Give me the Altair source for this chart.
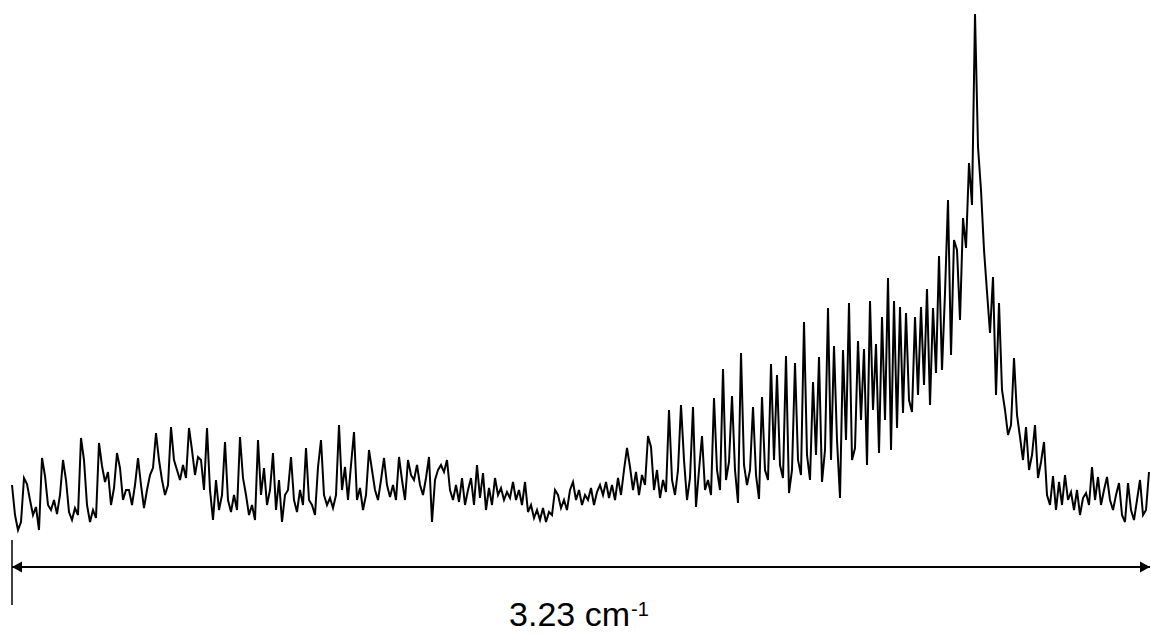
import altair as alt
import numpy as np
import pandas as pd

# Spectrum intensity (arbitrary units), equally spaced points
intensity = [
    45, 15, 0, 8, 52, 46, 30, 15, 23, 0, 72, 54, 25, 20, 30, 16, 35, 70, 50, 18,
    10, 22, 15, 92, 70, 25, 8, 20, 12, 87, 64, 48, 58, 25, 42, 77, 62, 30, 40, 40,
    25, 45, 72, 45, 22, 40, 55, 62, 97, 70, 50, 35, 45, 103, 70, 60, 50, 65, 52, 102,
    80, 55, 73, 70, 40, 102, 40, 10, 50, 20, 35, 88, 30, 18, 35, 20, 93, 52, 35, 15,
    25, 10, 90, 35, 62, 25, 40, 77, 20, 50, 8, 35, 40, 73, 30, 18, 40, 25, 82, 30,
    25, 15, 63, 90, 35, 25, 32, 22, 35, 105, 40, 63, 30, 65, 98, 30, 42, 20, 35, 80,
    60, 40, 30, 50, 72, 45, 33, 45, 30, 73, 50, 30, 70, 55, 50, 65, 45, 35, 52, 73,
    8, 50, 60, 65, 58, 70, 40, 30, 45, 28, 52, 25, 40, 52, 25, 65, 32, 57, 20, 42,
    25, 52, 35, 42, 30, 38, 32, 48, 30, 40, 25, 48, 18, 25, 12, 20, 10, 22, 8, 18,
    15, 40, 35, 22, 30, 20, 40, 48, 30, 40, 25, 35, 30, 42, 25, 38, 45, 35, 48, 32,
    45, 30, 52, 35, 60, 82, 63, 40, 58, 35, 55, 45, 94, 83, 40, 60, 32, 50, 38, 120,
    50, 35, 60, 125, 70, 30, 52, 123, 23, 60, 94, 40, 50, 35, 132, 60, 40, 161, 50, 68,
    134, 60, 27, 177, 65, 45, 60, 123, 55, 31, 133, 60, 50, 166, 70, 155, 65, 52, 174, 37,
    60, 167, 70, 55, 208, 75, 50, 148, 75, 173, 48, 80, 222, 70, 184, 90, 32, 180, 90, 227,
    70, 82, 189, 110, 181, 65, 229, 120, 186, 77, 213, 110, 252, 80, 229, 102, 223, 117, 217, 130,
    118, 213, 135, 223, 145, 241, 125, 222, 157, 274, 160, 237, 330, 175, 290, 280, 210, 312, 282, 367,
    325, 516, 383, 340, 280, 238, 197, 253, 135, 227, 140, 120, 95, 105, 172, 115, 93, 70, 103, 60,
    75, 105, 52, 68, 88, 35, 25, 54, 20, 48, 25, 55, 30, 38, 20, 40, 15, 32, 37, 25,
    63, 30, 53, 25, 40, 53, 30, 20, 35, 47, 15, 8, 47, 20, 10, 30, 50, 15, 20, 58,
]
point_spacing_cm = 0.008515          # cm-1 between samples
span_cm = 3.23                        # width of the arrow, cm-1
label_main = "3.23 cm"
label_sup = "-1"

wavenumber = np.round(np.arange(len(intensity)) * point_spacing_cm, 5)
spec = pd.DataFrame({"wn": wavenumber, "I": intensity})

xs = alt.Scale(domain=[0, span_cm], nice=False, zero=False)
ys = alt.Scale(domain=[-106, 530], nice=False, zero=False)

line = alt.Chart(spec).mark_line(color="black", strokeWidth=2, interpolate="linear").encode(
    x=alt.X("wn:Q", scale=xs, axis=None),
    y=alt.Y("I:Q", scale=ys, axis=None),
)

arrow_df = pd.DataFrame({"x": [0.0], "x2": [span_cm], "y": [-37]})
arrow = alt.Chart(arrow_df).mark_rule(color="black", strokeWidth=2).encode(
    x=alt.X("x:Q", scale=xs, axis=None), x2="x2:Q", y=alt.Y("y:Q", scale=ys, axis=None)
)

left_df = pd.DataFrame({"x": [0.0], "y": [-37]})
right_df = pd.DataFrame({"x": [span_cm], "y": [-37]})
head_left = alt.Chart(left_df).mark_point(
    shape="M0,0 L1,-0.55 L1,0.55 Z", size=400, filled=True, color="black", opacity=1
).encode(x=alt.X("x:Q", scale=xs, axis=None), y=alt.Y("y:Q", scale=ys, axis=None))
head_right = alt.Chart(right_df).mark_point(
    shape="M0,0 L-1,-0.55 L-1,0.55 Z", size=400, filled=True, color="black", opacity=1
).encode(x=alt.X("x:Q", scale=xs, axis=None), y=alt.Y("y:Q", scale=ys, axis=None))

tick_df = pd.DataFrame({"x": [0.0], "y": [-10], "y2": [-75]})
tick = alt.Chart(tick_df).mark_rule(color="black", strokeWidth=1.5).encode(
    x=alt.X("x:Q", scale=xs, axis=None), y=alt.Y("y:Q", scale=ys, axis=None), y2="y2:Q"
)

main_df = pd.DataFrame({"x": [1.754], "y": [-96], "t": [label_main]})
sup_df = pd.DataFrame({"x": [1.757], "y": [-86], "t": [label_sup]})
txt_main = alt.Chart(main_df).mark_text(
    font="Liberation Sans", fontSize=34, align="right", baseline="alphabetic", color="black"
).encode(x=alt.X("x:Q", scale=xs, axis=None), y=alt.Y("y:Q", scale=ys, axis=None), text="t:N")
txt_sup = alt.Chart(sup_df).mark_text(
    font="Liberation Sans", fontSize=20, align="left", baseline="alphabetic", color="black"
).encode(x=alt.X("x:Q", scale=xs, axis=None), y=alt.Y("y:Q", scale=ys, axis=None), text="t:N")

chart = alt.layer(line, arrow, head_left, head_right, tick, txt_main, txt_sup).properties(
    width=1138, height=636,
    padding={"left": 12, "right": 1, "top": 0, "bottom": 0},
    autosize="none",
    background="white",
).configure_view(stroke=None)

chart.save("out.html", embed_options={"renderer": "svg", "actions": False})
